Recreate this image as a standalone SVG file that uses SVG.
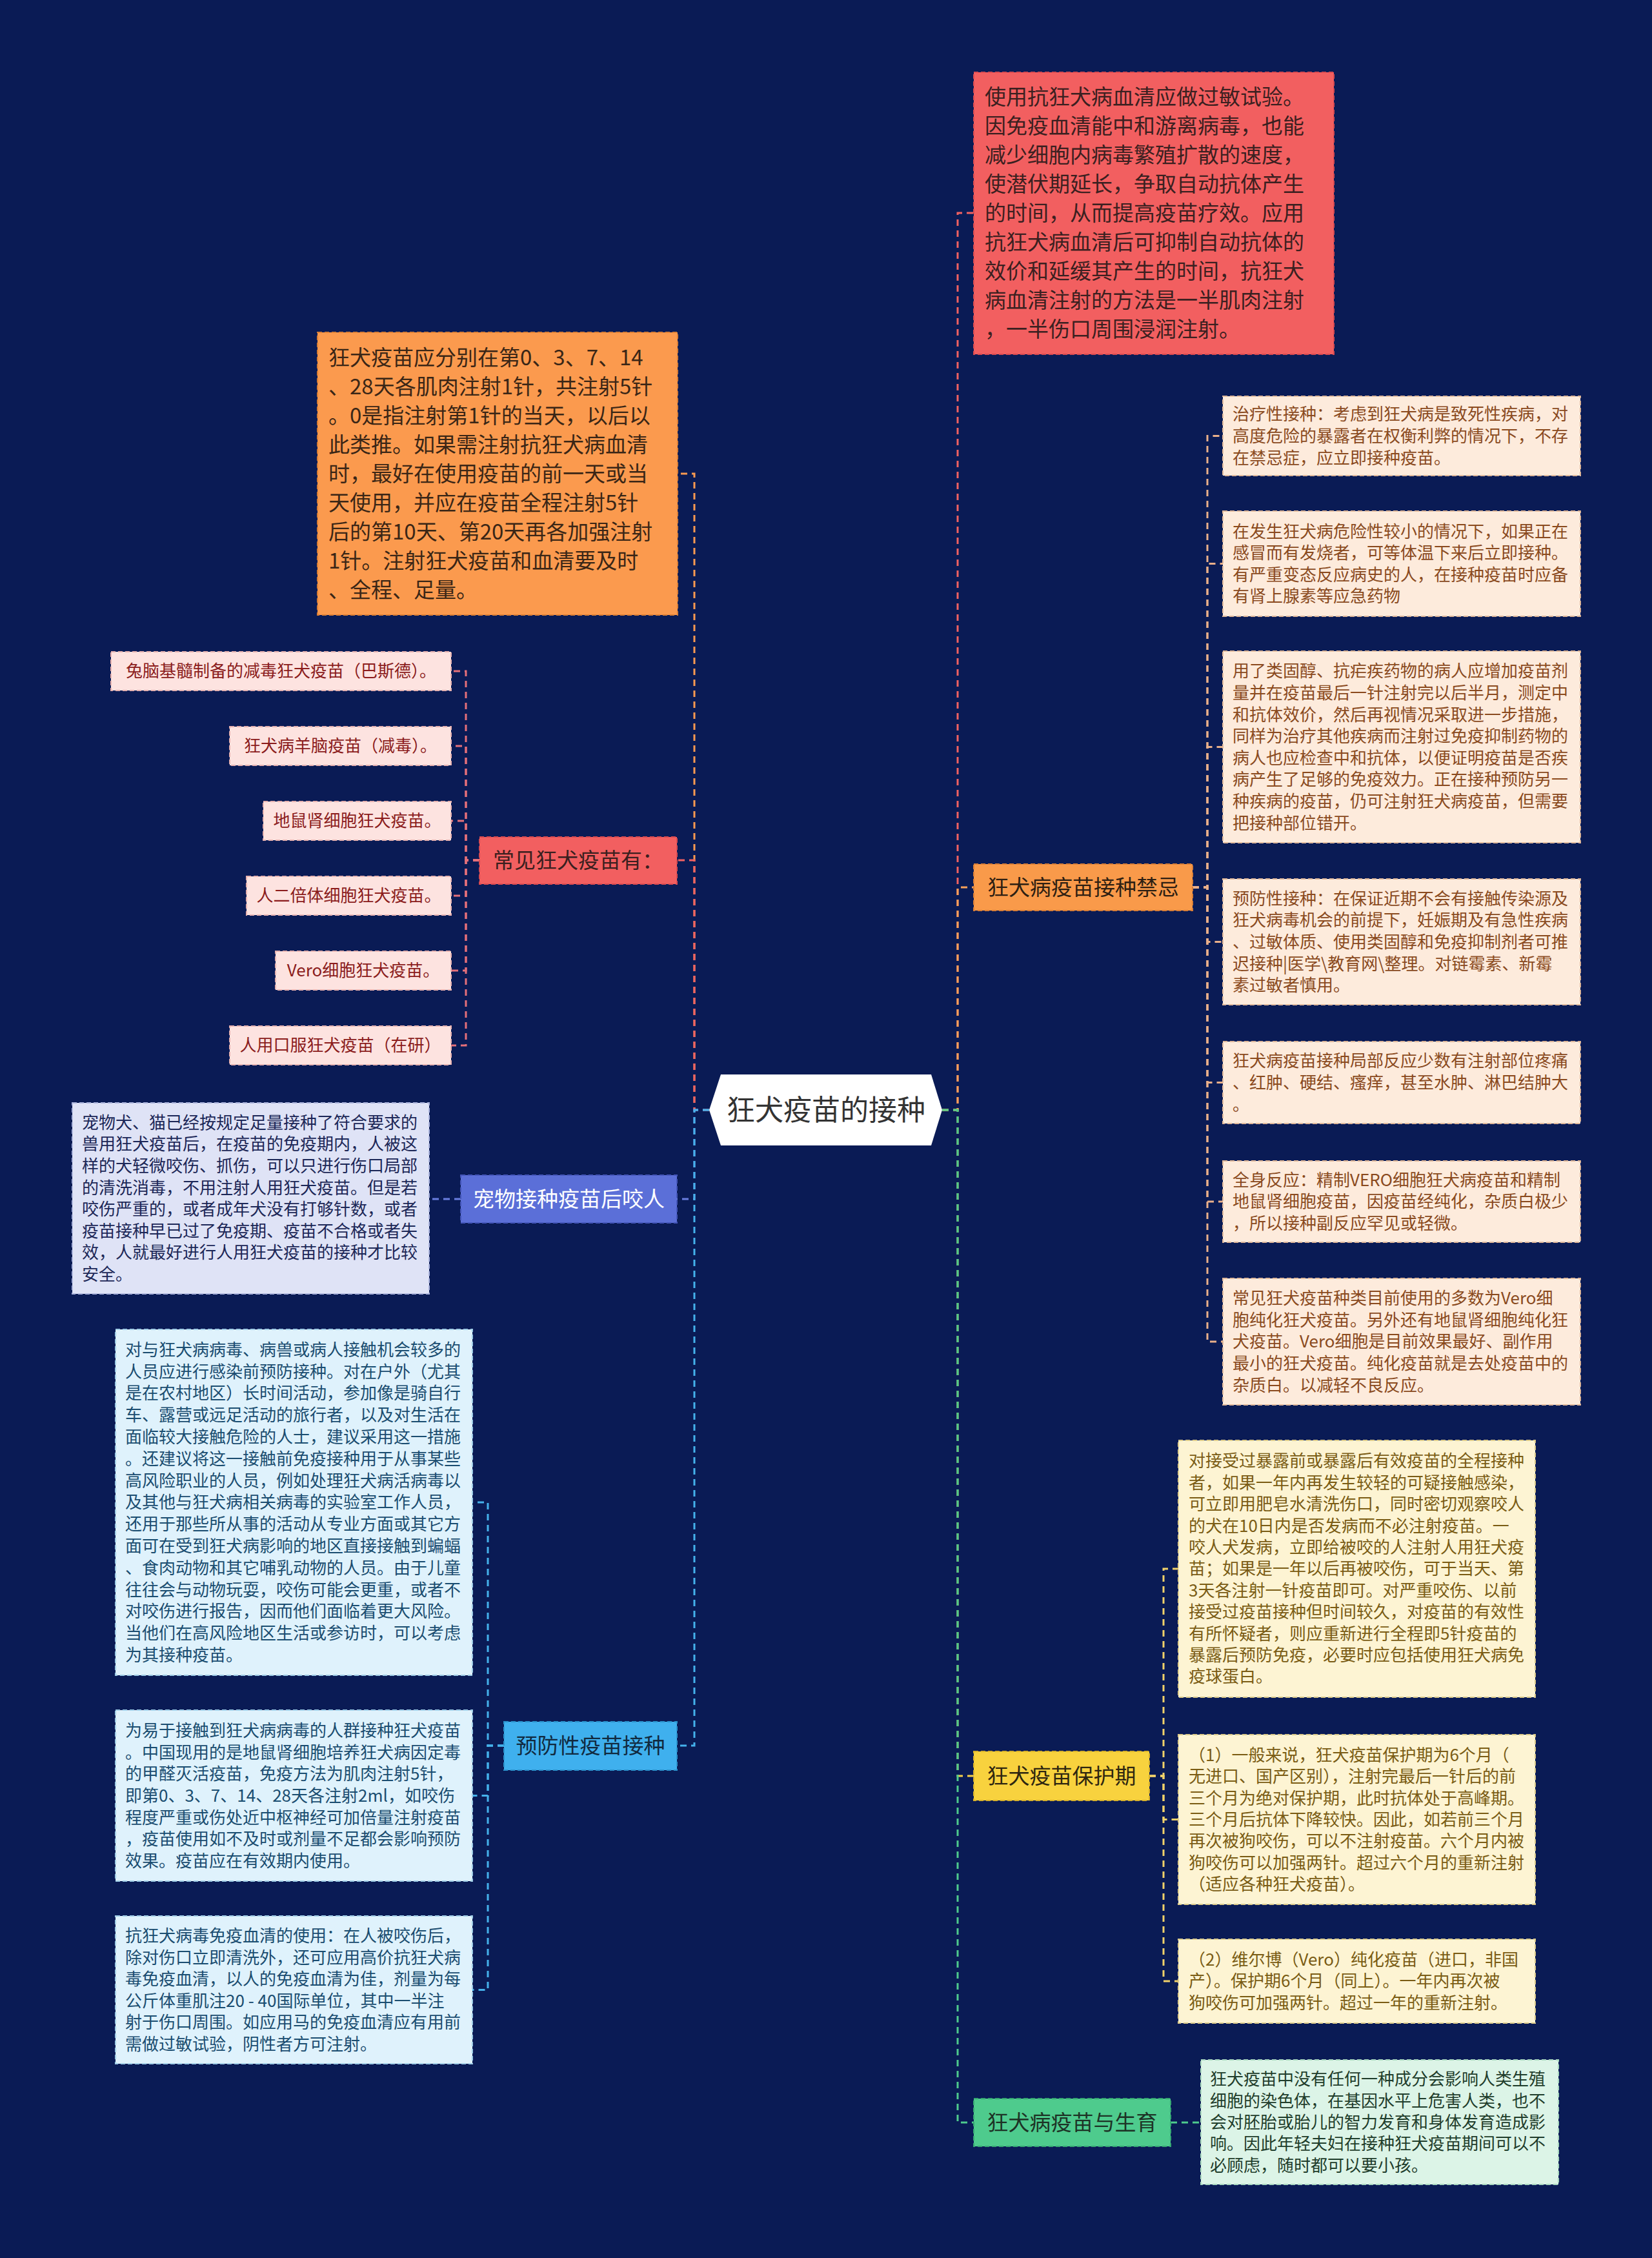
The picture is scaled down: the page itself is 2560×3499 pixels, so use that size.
<svg xmlns="http://www.w3.org/2000/svg" width="2560" height="3499" viewBox="0 0 2560 3499">
<style>
text{font-family:"Noto Sans CJK SC","Noto Sans",sans-serif;}
.big{font-size:33px;}
.lbl{font-size:33px;text-anchor:middle;}
.lf{font-size:26px;}
.c{fill:none;stroke-width:3;stroke-dasharray:10 7;}
.bx{stroke-width:2;stroke-dasharray:7 4;}
</style>
<rect x="0" y="0" width="2560" height="3499" fill="#0a1b55"/>

<g id="connectors">
  <path class="c" stroke="#f26262" d="M1460,1720 H1484 V330 H1509"/>
  <path class="c" stroke="#f7a25a" d="M1460,1720 H1484 V1375 H1509"/>
  <path class="c" stroke="#f6d048" d="M1460,1720 H1484 V2752 H1509"/>
  <path class="c" stroke="#4ecb8d" d="M1460,1720 H1484 V3289 H1509"/>
  <path class="c" stroke="#f99a50" d="M1099,1720 H1076 V734 H1050"/>
  <path class="c" stroke="#f26262" d="M1099,1720 H1076 V1333 H1049"/>
  <path class="c" stroke="#6a7ee0" d="M1099,1720 H1076 V1858 H1049"/>
  <path class="c" stroke="#45b2ec" d="M1099,1720 H1076 V2705 H1049"/>
  <g stroke="#eab08a">
    <path class="c" d="M1848,1375 H1871 V675.5 H1895"/>
    <path class="c" d="M1848,1375 H1871 V873.5 H1895"/>
    <path class="c" d="M1848,1375 H1871 V1157.5 H1895"/>
    <path class="c" d="M1848,1375 H1871 V1459.5 H1895"/>
    <path class="c" d="M1848,1375 H1871 V1677.5 H1895"/>
    <path class="c" d="M1848,1375 H1871 V1862 H1895"/>
    <path class="c" d="M1848,1375 H1871 V2079 H1895"/>
  </g>
  <g stroke="#e5707a">
    <path class="c" d="M743,1333 H722 V1040 H699"/>
    <path class="c" d="M743,1333 H722 V1156 H699"/>
    <path class="c" d="M743,1333 H722 V1272 H699"/>
    <path class="c" d="M743,1333 H722 V1388 H699"/>
    <path class="c" d="M743,1333 H722 V1504 H699"/>
    <path class="c" d="M743,1333 H722 V1620 H699"/>
  </g>
  <path class="c" stroke="#6a7ee0" d="M714,1858 H665"/>
  <g stroke="#45b2ec">
    <path class="c" d="M781,2705 H756 V2328 H732"/>
    <path class="c" d="M781,2705 H756 V2782.5 H732"/>
    <path class="c" d="M781,2705 H756 V3083.5 H732"/>
  </g>
  <g stroke="#f1d26a">
    <path class="c" d="M1781,2752 H1803 V2431 H1826"/>
    <path class="c" d="M1781,2752 H1803 V2819.5 H1826"/>
    <path class="c" d="M1781,2752 H1803 V3070 H1826"/>
  </g>
  <path class="c" stroke="#4ecb8d" d="M1814,3289 H1861"/>
</g>

<g id="root">
  <polygon points="1099,1720 1117,1665 1443,1665 1460,1720 1443,1775 1117,1775" fill="#ffffff"/>
  <text x="1280" y="1736" font-size="44" text-anchor="middle" fill="#333333">狂犬疫苗的接种</text>
</g>

<g id="n-serum">
  <rect class="bx" x="1509" y="112" width="558" height="437" fill="#f25f60" stroke="#d84a50"/>
  <text class="big" fill="#3b2020" x="1526" y="162.4"><tspan x="1526">使用抗狂犬病血清应做过敏试验。</tspan><tspan x="1526" dy="45">因免疫血清能中和游离病毒，也能</tspan><tspan x="1526" dy="45">减少细胞内病毒繁殖扩散的速度，</tspan><tspan x="1526" dy="45">使潜伏期延长，争取自动抗体产生</tspan><tspan x="1526" dy="45">的时间，从而提高疫苗疗效。应用</tspan><tspan x="1526" dy="45">抗狂犬病血清后可抑制自动抗体的</tspan><tspan x="1526" dy="45">效价和延缓其产生的时间，抗狂犬</tspan><tspan x="1526" dy="45">病血清注射的方法是一半肌肉注射</tspan><tspan x="1526" dy="45">，一半伤口周围浸润注射。</tspan></text>
</g>

<g id="n-contra">
  <rect class="bx" x="1509" y="1339" width="339" height="72" fill="#f99a4a" stroke="#d97e35"/>
  <text class="lbl" x="1678.5" y="1387" fill="#2e1f12">狂犬病疫苗接种禁忌</text>
</g>
<g id="n-contra-1">
  <rect class="bx" x="1895" y="614" width="554" height="123" fill="#fdebdc" stroke="#e0b89a"/>
  <text class="lf" fill="#8a4a1e" x="1910" y="651.3"><tspan x="1910">治疗性接种：考虑到狂犬病是致死性疾病，对</tspan><tspan x="1910" dy="33.6">高度危险的暴露者在权衡利弊的情况下，不存</tspan><tspan x="1910" dy="33.6">在禁忌症，应立即接种疫苗。</tspan></text>
</g>
<g id="n-contra-2">
  <rect class="bx" x="1895" y="792" width="554" height="163" fill="#fdebdc" stroke="#e0b89a"/>
  <text class="lf" fill="#8a4a1e" x="1910" y="832.5"><tspan x="1910">在发生狂犬病危险性较小的情况下，如果正在</tspan><tspan x="1910" dy="33.6">感冒而有发烧者，可等体温下来后立即接种。</tspan><tspan x="1910" dy="33.6">有严重变态反应病史的人，在接种疫苗时应备</tspan><tspan x="1910" dy="33.6">有肾上腺素等应急药物</tspan></text>
</g>
<g id="n-contra-3">
  <rect class="bx" x="1895" y="1009" width="554" height="297" fill="#fdebdc" stroke="#e0b89a"/>
  <text class="lf" fill="#8a4a1e" x="1910" y="1049.3"><tspan x="1910">用了类固醇、抗疟疾药物的病人应增加疫苗剂</tspan><tspan x="1910" dy="33.6">量并在疫苗最后一针注射完以后半月，测定中</tspan><tspan x="1910" dy="33.6">和抗体效价，然后再视情况采取进一步措施，</tspan><tspan x="1910" dy="33.6">同样为治疗其他疾病而注射过免疫抑制药物的</tspan><tspan x="1910" dy="33.6">病人也应检查中和抗体，以便证明疫苗是否疾</tspan><tspan x="1910" dy="33.6">病产生了足够的免疫效力。正在接种预防另一</tspan><tspan x="1910" dy="33.6">种疾病的疫苗，仍可注射狂犬病疫苗，但需要</tspan><tspan x="1910" dy="33.6">把接种部位错开。</tspan></text>
</g>
<g id="n-contra-4">
  <rect class="bx" x="1895" y="1362" width="554" height="195" fill="#fdebdc" stroke="#e0b89a"/>
  <text class="lf" fill="#8a4a1e" x="1910" y="1401.7"><tspan x="1910">预防性接种：在保证近期不会有接触传染源及</tspan><tspan x="1910" dy="33.6">狂犬病毒机会的前提下，妊娠期及有急性疾病</tspan><tspan x="1910" dy="33.6">、过敏体质、使用类固醇和免疫抑制剂者可推</tspan><tspan x="1910" dy="33.6">迟接种|医学\教育网\整理。对链霉素、新霉</tspan><tspan x="1910" dy="33.6">素过敏者慎用。</tspan></text>
</g>
<g id="n-contra-5">
  <rect class="bx" x="1895" y="1614" width="554" height="127" fill="#fdebdc" stroke="#e0b89a"/>
  <text class="lf" fill="#8a4a1e" x="1910" y="1653.3"><tspan x="1910">狂犬病疫苗接种局部反应少数有注射部位疼痛</tspan><tspan x="1910" dy="33.6">、红肿、硬结、瘙痒，甚至水肿、淋巴结肿大</tspan><tspan x="1910" dy="33.6">。</tspan></text>
</g>
<g id="n-contra-6">
  <rect class="bx" x="1895" y="1799" width="554" height="126" fill="#fdebdc" stroke="#e0b89a"/>
  <text class="lf" fill="#8a4a1e" x="1910" y="1837.8"><tspan x="1910">全身反应：精制VERO细胞狂犬病疫苗和精制</tspan><tspan x="1910" dy="33.6">地鼠肾细胞疫苗，因疫苗经纯化，杂质白极少</tspan><tspan x="1910" dy="33.6">，所以接种副反应罕见或轻微。</tspan></text>
</g>
<g id="n-contra-7">
  <rect class="bx" x="1895" y="1981" width="554" height="196" fill="#fdebdc" stroke="#e0b89a"/>
  <text class="lf" fill="#8a4a1e" x="1910" y="2021.2"><tspan x="1910">常见狂犬疫苗种类目前使用的多数为Vero细</tspan><tspan x="1910" dy="33.6">胞纯化狂犬疫苗。另外还有地鼠肾细胞纯化狂</tspan><tspan x="1910" dy="33.6">犬疫苗。Vero细胞是目前效果最好、副作用</tspan><tspan x="1910" dy="33.6">最小的狂犬疫苗。纯化疫苗就是去处疫苗中的</tspan><tspan x="1910" dy="33.6">杂质白。以减轻不良反应。</tspan></text>
</g>

<g id="n-protect">
  <rect class="bx" x="1509" y="2714" width="272" height="76" fill="#f8d23e" stroke="#d9b22a"/>
  <text class="lbl" x="1645" y="2764" fill="#2e2610">狂犬疫苗保护期</text>
</g>
<g id="n-protect-1">
  <rect class="bx" x="1826" y="2232" width="553" height="398" fill="#fdf4d3" stroke="#dccb8a"/>
  <text class="lf" fill="#7a5c14" x="1842" y="2273.4"><tspan x="1842">对接受过暴露前或暴露后有效疫苗的全程接种</tspan><tspan x="1842" dy="33.4">者，如果一年内再发生较轻的可疑接触感染，</tspan><tspan x="1842" dy="33.4">可立即用肥皂水清洗伤口，同时密切观察咬人</tspan><tspan x="1842" dy="33.4">的犬在10日内是否发病而不必注射疫苗。一</tspan><tspan x="1842" dy="33.4">咬人犬发病，立即给被咬的人注射人用狂犬疫</tspan><tspan x="1842" dy="33.4">苗；如果是一年以后再被咬伤，可于当天、第</tspan><tspan x="1842" dy="33.4">3天各注射一针疫苗即可。对严重咬伤、以前</tspan><tspan x="1842" dy="33.4">接受过疫苗接种但时间较久，对疫苗的有效性</tspan><tspan x="1842" dy="33.4">有所怀疑者，则应重新进行全程即5针疫苗的</tspan><tspan x="1842" dy="33.4">暴露后预防免疫，必要时应包括使用狂犬病免</tspan><tspan x="1842" dy="33.4">疫球蛋白。</tspan></text>
</g>
<g id="n-protect-2">
  <rect class="bx" x="1826" y="2688" width="553" height="263" fill="#fdf4d3" stroke="#dccb8a"/>
  <text class="lf" fill="#7a5c14" x="1842" y="2728.7"><tspan x="1842">（1）一般来说，狂犬疫苗保护期为6个月（</tspan><tspan x="1842" dy="33.4">无进口、国产区别），注射完最后一针后的前</tspan><tspan x="1842" dy="33.4">三个月为绝对保护期，此时抗体处于高峰期。</tspan><tspan x="1842" dy="33.4">三个月后抗体下降较快。因此，如若前三个月</tspan><tspan x="1842" dy="33.4">再次被狗咬伤，可以不注射疫苗。六个月内被</tspan><tspan x="1842" dy="33.4">狗咬伤可以加强两针。超过六个月的重新注射</tspan><tspan x="1842" dy="33.4">（适应各种狂犬疫苗）。</tspan></text>
</g>
<g id="n-protect-3">
  <rect class="bx" x="1826" y="3005" width="553" height="130" fill="#fdf4d3" stroke="#dccb8a"/>
  <text class="lf" fill="#7a5c14" x="1842" y="3046"><tspan x="1842">（2）维尔博（Vero）纯化疫苗（进口，非国</tspan><tspan x="1842" dy="33.4">产）。保护期6个月（同上）。一年内再次被</tspan><tspan x="1842" dy="33.4">狗咬伤可加强两针。超过一年的重新注射。</tspan></text>
</g>

<g id="n-birth">
  <rect class="bx" x="1509" y="3252" width="305" height="74" fill="#4ecb8d" stroke="#35a872"/>
  <text class="lbl" x="1661.5" y="3301" fill="#1d3326">狂犬病疫苗与生育</text>
</g>
<g id="n-birth-1">
  <rect class="bx" x="1861" y="3192" width="554" height="193" fill="#dcf4e7" stroke="#a9d8bf"/>
  <text class="lf" fill="#1f3d2b" x="1875" y="3231.1"><tspan x="1875">狂犬疫苗中没有任何一种成分会影响人类生殖</tspan><tspan x="1875" dy="33.4">细胞的染色体，在基因水平上危害人类，也不</tspan><tspan x="1875" dy="33.4">会对胚胎或胎儿的智力发育和身体发育造成影</tspan><tspan x="1875" dy="33.4">响。因此年轻夫妇在接种狂犬疫苗期间可以不</tspan><tspan x="1875" dy="33.4">必顾虑，随时都可以要小孩。</tspan></text>
</g>

<g id="n-schedule">
  <rect class="bx" x="492" y="515" width="558" height="438" fill="#fb9a4e" stroke="#d97e35"/>
  <text class="big" fill="#3a2616" x="509" y="565.9"><tspan x="509">狂犬疫苗应分别在第0、3、7、14</tspan><tspan x="509" dy="45">、28天各肌肉注射1针，共注射5针</tspan><tspan x="509" dy="45">。0是指注射第1针的当天，以后以</tspan><tspan x="509" dy="45">此类推。如果需注射抗狂犬病血清</tspan><tspan x="509" dy="45">时，最好在使用疫苗的前一天或当</tspan><tspan x="509" dy="45">天使用，并应在疫苗全程注射5针</tspan><tspan x="509" dy="45">后的第10天、第20天再各加强注射</tspan><tspan x="509" dy="45">1针。注射狂犬疫苗和血清要及时</tspan><tspan x="509" dy="45">、全程、足量。</tspan></text>
</g>

<g id="n-common">
  <rect class="bx" x="743" y="1297" width="306" height="73" fill="#f25f60" stroke="#d84a50"/>
  <text class="lbl" x="896" y="1345" fill="#3b1f1f">常见狂犬疫苗有：</text>
</g>
<g id="n-common-1">
  <rect class="bx" x="172" y="1010" width="527" height="60" fill="#fde3e0" stroke="#e6b2b0"/>
  <text class="lf" x="435.5" y="1049.4" text-anchor="middle" fill="#8b1c1c">兔脑基髓制备的减毒狂犬疫苗（巴斯德）。</text>
</g>
<g id="n-common-2">
  <rect class="bx" x="356" y="1126" width="343" height="60" fill="#fde3e0" stroke="#e6b2b0"/>
  <text class="lf" x="527.5" y="1165.4" text-anchor="middle" fill="#8b1c1c">狂犬病羊脑疫苗（减毒）。</text>
</g>
<g id="n-common-3">
  <rect class="bx" x="408" y="1242" width="291" height="60" fill="#fde3e0" stroke="#e6b2b0"/>
  <text class="lf" x="553.5" y="1281.4" text-anchor="middle" fill="#8b1c1c">地鼠肾细胞狂犬疫苗。</text>
</g>
<g id="n-common-4">
  <rect class="bx" x="382" y="1358" width="317" height="60" fill="#fde3e0" stroke="#e6b2b0"/>
  <text class="lf" x="540.5" y="1397.4" text-anchor="middle" fill="#8b1c1c">人二倍体细胞狂犬疫苗。</text>
</g>
<g id="n-common-5">
  <rect class="bx" x="427" y="1474" width="272" height="60" fill="#fde3e0" stroke="#e6b2b0"/>
  <text class="lf" x="563" y="1513.4" text-anchor="middle" fill="#8b1c1c">Vero细胞狂犬疫苗。</text>
</g>
<g id="n-common-6">
  <rect class="bx" x="356" y="1590" width="343" height="60" fill="#fde3e0" stroke="#e6b2b0"/>
  <text class="lf" x="527.5" y="1629.4" text-anchor="middle" fill="#8b1c1c">人用口服狂犬疫苗（在研）</text>
</g>

<g id="n-pet">
  <rect class="bx" x="714" y="1821" width="335" height="74" fill="#5b6fd8" stroke="#4355b8"/>
  <text class="lbl" x="881.5" y="1870" fill="#ffffff">宠物接种疫苗后咬人</text>
</g>
<g id="n-pet-1">
  <rect class="bx" x="112" y="1709" width="553" height="296" fill="#dfe3f6" stroke="#aab3dc"/>
  <text class="lf" fill="#1c2757" x="127" y="1748.8"><tspan x="127">宠物犬、猫已经按规定足量接种了符合要求的</tspan><tspan x="127" dy="33.6">兽用狂犬疫苗后，在疫苗的免疫期内，人被这</tspan><tspan x="127" dy="33.6">样的犬轻微咬伤、抓伤，可以只进行伤口局部</tspan><tspan x="127" dy="33.6">的清洗消毒，不用注射人用狂犬疫苗。但是若</tspan><tspan x="127" dy="33.6">咬伤严重的，或者成年犬没有打够针数，或者</tspan><tspan x="127" dy="33.6">疫苗接种早已过了免疫期、疫苗不合格或者失</tspan><tspan x="127" dy="33.6">效，人就最好进行人用狂犬疫苗的接种才比较</tspan><tspan x="127" dy="33.6">安全。</tspan></text>
</g>

<g id="n-prevent">
  <rect class="bx" x="781" y="2668" width="268" height="75" fill="#3fb0ee" stroke="#2b92cc"/>
  <text class="lbl" x="915" y="2717" fill="#112a3f">预防性疫苗接种</text>
</g>
<g id="n-prevent-1">
  <rect class="bx" x="179" y="2060" width="553" height="536" fill="#dff2fc" stroke="#9fcde6"/>
  <text class="lf" fill="#1a4d70" x="194" y="2100.8"><tspan x="194">对与狂犬病病毒、病兽或病人接触机会较多的</tspan><tspan x="194" dy="33.8">人员应进行感染前预防接种。对在户外（尤其</tspan><tspan x="194" dy="33.8">是在农村地区）长时间活动，参加像是骑自行</tspan><tspan x="194" dy="33.8">车、露营或远足活动的旅行者，以及对生活在</tspan><tspan x="194" dy="33.8">面临较大接触危险的人士，建议采用这一措施</tspan><tspan x="194" dy="33.8">。还建议将这一接触前免疫接种用于从事某些</tspan><tspan x="194" dy="33.8">高风险职业的人员，例如处理狂犬病活病毒以</tspan><tspan x="194" dy="33.8">及其他与狂犬病相关病毒的实验室工作人员，</tspan><tspan x="194" dy="33.8">还用于那些所从事的活动从专业方面或其它方</tspan><tspan x="194" dy="33.8">面可在受到狂犬病影响的地区直接接触到蝙蝠</tspan><tspan x="194" dy="33.8">、食肉动物和其它哺乳动物的人员。由于儿童</tspan><tspan x="194" dy="33.8">往往会与动物玩耍，咬伤可能会更重，或者不</tspan><tspan x="194" dy="33.8">对咬伤进行报告，因而他们面临着更大风险。</tspan><tspan x="194" dy="33.8">当他们在高风险地区生活或参访时，可以考虑</tspan><tspan x="194" dy="33.8">为其接种疫苗。</tspan></text>
</g>
<g id="n-prevent-2">
  <rect class="bx" x="179" y="2650" width="553" height="265" fill="#dff2fc" stroke="#9fcde6"/>
  <text class="lf" fill="#1a4d70" x="194" y="2691.1"><tspan x="194">为易于接触到狂犬病病毒的人群接种狂犬疫苗</tspan><tspan x="194" dy="33.6">。中国现用的是地鼠肾细胞培养狂犬病因定毒</tspan><tspan x="194" dy="33.6">的甲醛灭活疫苗，免疫方法为肌肉注射5针，</tspan><tspan x="194" dy="33.6">即第0、3、7、14、28天各注射2ml，如咬伤</tspan><tspan x="194" dy="33.6">程度严重或伤处近中枢神经可加倍量注射疫苗</tspan><tspan x="194" dy="33.6">，疫苗使用如不及时或剂量不足都会影响预防</tspan><tspan x="194" dy="33.6">效果。疫苗应在有效期内使用。</tspan></text>
</g>
<g id="n-prevent-3">
  <rect class="bx" x="179" y="2969" width="553" height="229" fill="#dff2fc" stroke="#9fcde6"/>
  <text class="lf" fill="#1a4d70" x="194" y="3008.9"><tspan x="194">抗狂犬病毒免疫血清的使用：在人被咬伤后，</tspan><tspan x="194" dy="33.6">除对伤口立即清洗外，还可应用高价抗狂犬病</tspan><tspan x="194" dy="33.6">毒免疫血清，以人的免疫血清为佳，剂量为每</tspan><tspan x="194" dy="33.6">公斤体重肌注20 - 40国际单位，其中一半注</tspan><tspan x="194" dy="33.6">射于伤口周围。如应用马的免疫血清应有用前</tspan><tspan x="194" dy="33.6">需做过敏试验，阴性者方可注射。</tspan></text>
</g>
</svg>
